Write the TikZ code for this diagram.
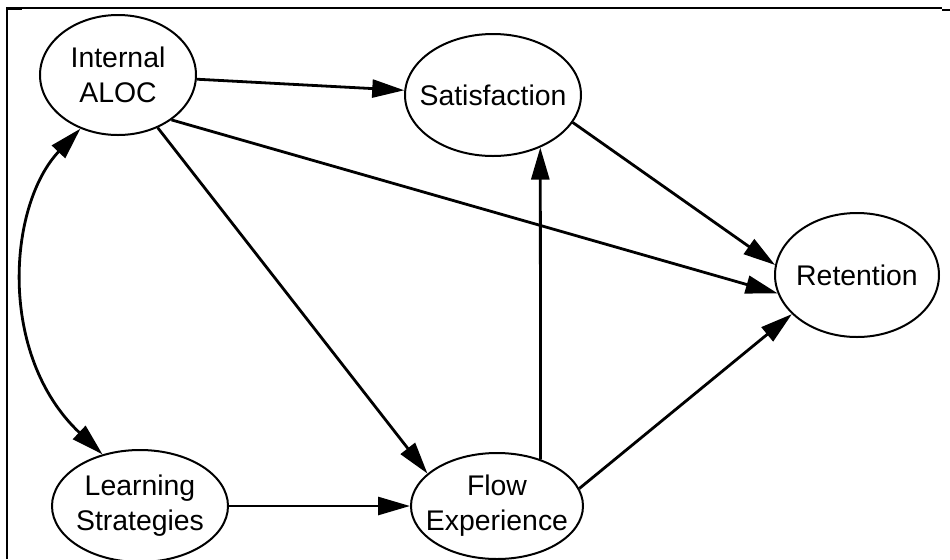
\documentclass[tikz,border=0pt]{standalone}
\usepackage{fontspec}
\setmainfont{Liberation Sans}
\usepackage{tikz}
\usetikzlibrary{positioning,arrows.meta,shapes.geometric}

\tikzset{
  factor/.style={ellipse, draw, line width=1pt, inner sep=0pt},
  txt/.style={align=center, font=\fontsize{14.2}{17.5}\selectfont},
  path/.style={->, line width=1.4pt},
  >={Triangle[length=16pt,width=9pt]}
}

\begin{document}
\begin{tikzpicture}[x=0.5pt, y=-0.5pt]
            \useasboundingbox (0,0) rectangle (950,559);
            \draw[line width=0.6pt] (7,559) -- (7,8) -- (942,8);
            \draw[line width=1.2pt] (7,9) -- (22,9);
            \draw[line width=1.2pt] (942,10) -- (950,10);
            \node[factor, minimum width=78pt, minimum height=60pt, label={[txt]center:Internal\\ALOC}] (ialoc) at (118,75) {};
            \node[factor, minimum width=88pt, minimum height=61pt, label={[txt]center:Satisfaction}] (satis) at (493,95) {};
            \node[factor, minimum width=82pt, minimum height=62pt, label={[txt]center:Retention}] (reten) at (857,275) {};
            \node[factor, minimum width=88pt, minimum height=56pt, label={[txt]center:Learning\\Strategies}] (learn) at (140,506) {};
            \node[factor, minimum width=86pt, minimum height=53pt, label={[txt]center:Flow\\Experience}] (flow) at (497,506) {};
            \draw[path] (ialoc) -- (satis);
            \draw[path] (ialoc.-40) -- (reten.193);
            \draw[path] (ialoc.-53) -- (flow.155);
            \draw[path, <->] (ialoc.-125) .. controls (8,205) and (-3,355) .. (learn.126);
            \draw[path] (learn.east) -- (flow.west);
            \draw[path] (flow.47) -- (satis.-48);
            \draw[path] (flow.12) -- (reten.-149);
            \draw[path] (satis.-19) -- (reten.173);
        \end{tikzpicture}
\end{document}
